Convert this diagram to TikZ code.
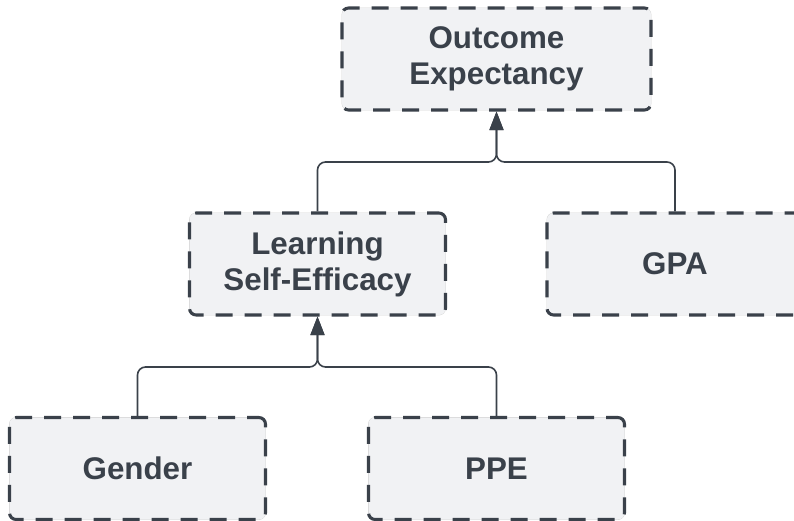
\documentclass[tikz,border=0pt]{standalone}
\usepackage{fontspec}
\setmainfont{Liberation Sans}
\usetikzlibrary{arrows.meta,positioning}
\definecolor{boxfill}{HTML}{F1F2F4}
\definecolor{ink}{HTML}{3A414A}

\begin{document}
\begin{tikzpicture}[x=0.75pt, y=-0.75pt, >={Triangle[length=14pt, width=10.5pt]},
  every node/.style={font=\fontsize{23.5}{27}\selectfont\bfseries, text=ink},
  box/.style={draw=ink, fill=boxfill, line width=2.3pt, rounded corners=5pt,
              dash pattern=on 12.75pt off 9pt, dash phase=4pt, align=center,
              preaction={draw=black!18, solid, line width=0.6pt},
              minimum width=192pt, minimum height=76.5pt, inner sep=0pt},
  link/.style={draw=ink, line width=1.2pt, rounded corners=6pt}]

  \useasboundingbox (0,0) rectangle (794,521);

  % ---- Top: outcome ----
  \node[box, minimum width=231.75pt] (oe)  at (496.5, 59) {Outcome\\Expectancy};

  % ---- Middle row ----
  \node[box] (lse) at (317.5, 264) {Learning\\Self-Efficacy};
  \node[box] (gpa) at (675, 264)   {GPA};

  % ---- Bottom row ----
  \node[box] (gen) at (137.5, 468.5) {Gender};
  \node[box] (ppe) at (496.5, 468.5) {PPE};

  % ---- Junction points ----
  \coordinate (jtop) at (496.5, 162);
  \coordinate (jbot) at (317.5, 367);

  % ---- Middle row to outcome ----
  \draw[link, ->] (lse.north) |- (jtop) -- (oe.south);
  \draw[link, ->] (gpa.north) |- (jtop) -- (oe.south);

  % ---- Bottom row to self-efficacy ----
  \draw[link, ->] (gen.north) |- (jbot) -- (lse.south);
  \draw[link, ->] (ppe.north) |- (jbot) -- (lse.south);
\end{tikzpicture}
\end{document}
